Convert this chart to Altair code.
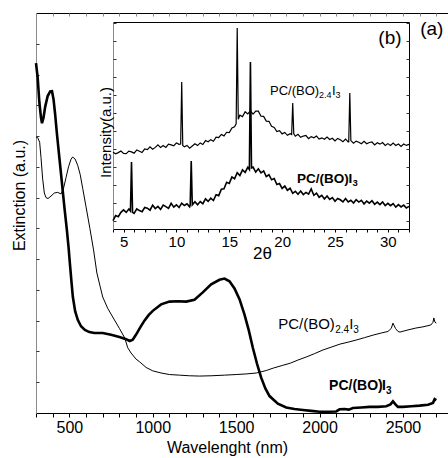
import altair as alt
import pandas as pd

# ---------------- main panel (a): extinction spectra ----------------
nm_thick = [300, 310, 320, 330, 336, 345, 355, 370, 385, 396, 405, 415, 425, 440, 455, 470, 485, 495,
            503, 512, 521, 535, 551, 570, 593, 620, 650, 700, 750, 800, 840, 862, 880, 900, 925, 950,
            975, 1000, 1050, 1100, 1150, 1200, 1250, 1300, 1350, 1400, 1430, 1460, 1490, 1520, 1550,
            1575, 1600, 1625, 1650, 1675, 1700, 1750, 1800, 1850, 1900, 1950, 2000, 2050, 2100, 2120,
            2150, 2175, 2200, 2250, 2300, 2350, 2400, 2425, 2440, 2455, 2470, 2500, 2550, 2600, 2650,
            2680, 2690, 2700]
ext_thick = [11.37, 10.9, 10.1, 9.6, 9.42, 9.6, 9.95, 10.3, 10.45, 10.46, 10.2, 9.7, 9.1, 8.3, 7.5, 6.7,
             5.95, 5.4, 4.87, 4.3, 3.77, 3.3, 3.02, 2.82, 2.70, 2.63, 2.60, 2.60, 2.54, 2.47, 2.40, 2.34,
             2.38, 2.55, 2.78, 3.0, 3.18, 3.32, 3.53, 3.62, 3.63, 3.62, 3.68, 3.92, 4.18, 4.33, 4.37,
             4.28, 4.05, 3.7, 3.2, 2.7, 2.12, 1.6, 1.15, 0.8, 0.55, 0.3, 0.18, 0.13, 0.1, 0.07, 0.04,
             0.04, 0.05, 0.12, 0.13, 0.11, 0.16, 0.18, 0.2, 0.2, 0.22, 0.28, 0.38, 0.28, 0.2, 0.2, 0.22,
             0.24, 0.27, 0.33, 0.45, 0.42]

nm_thin = [300, 310, 322, 330, 340, 350, 360, 372, 390, 410, 430, 450, 465, 480, 495, 510, 520, 535, 550,
           565, 580, 600, 623, 645, 665, 685, 700, 730, 760, 800, 832, 850, 870, 900, 922, 960, 1000,
           1050, 1100, 1160, 1220, 1280, 1350, 1430, 1500, 1560, 1621, 1680, 1723, 1780, 1825, 1870,
           1920, 1970, 2021, 2070, 2123, 2170, 2219, 2270, 2320, 2370, 2410, 2430, 2440, 2455, 2470,
           2482, 2530, 2577, 2620, 2667, 2680, 2685, 2692, 2700]
ext_thin = [8.97, 8.95, 8.8, 8.3, 7.6, 7.15, 7.0, 6.97, 7.05, 7.15, 7.17, 7.12, 7.3, 7.65, 8.0, 8.25,
            8.32, 8.25, 8.05, 7.75, 7.3, 6.7, 6.0, 5.3, 4.55, 4.1, 3.77, 3.4, 3.12, 2.75, 2.44, 2.12,
            1.95, 1.75, 1.66, 1.48, 1.37, 1.3, 1.25, 1.23, 1.21, 1.2, 1.21, 1.23, 1.25, 1.27, 1.3,
            1.38, 1.46, 1.55, 1.62, 1.72, 1.82, 1.93, 2.05, 2.14, 2.24, 2.3, 2.37, 2.45, 2.53, 2.6,
            2.65, 2.75, 2.92, 2.75, 2.65, 2.63, 2.7, 2.76, 2.8, 2.86, 2.95, 3.09, 2.95, 2.92]

# ---------------- inset (b): XRD patterns ----------------
tt_grid = [4 + 0.25 * i for i in range(113)]
xrd_top = [3.82, 3.73, 3.80, 3.89, 3.76, 3.74, 3.88, 3.84, 3.77, 3.95, 3.88, 3.81, 4.00, 3.97, 4.12,
           3.99, 4.09, 4.23, 4.08, 4.19, 4.09, 4.27, 4.23, 4.18, 4.34, 4.26, 7.72, 4.12, 4.20, 4.05,
           4.17, 4.29, 4.19, 4.34, 4.25, 4.47, 4.40, 4.52, 4.43, 4.66, 4.64, 4.81, 4.73, 4.93, 4.91,
           5.17, 5.23, 10.72, 5.88, 5.80, 6.07, 5.95, 6.12, 5.94, 6.10, 6.10, 5.82, 5.81, 5.55, 5.54,
           5.26, 5.20, 4.97, 5.02, 4.84, 4.92, 4.76, 4.85, 6.56, 4.71, 4.82, 4.65, 4.72, 4.75, 4.58,
           4.69, 4.62, 4.72, 4.55, 4.62, 4.54, 4.66, 4.53, 4.60, 4.45, 4.59, 4.51, 4.41, 4.55, 4.40,
           4.47, 4.32, 4.44, 4.38, 4.29, 4.43, 4.29, 4.36, 4.39, 4.23, 4.35, 4.27, 4.36, 4.20, 4.30,
           4.20, 4.33, 4.20, 4.28, 4.14, 4.28, 4.20, 4.26]
top_extra_tt = [10.4, 10.6, 15.65, 15.85, 20.9, 21.1, 26.3, 26.4]
top_extra_v = [4.28, 4.20, 5.40, 5.65, 4.80, 4.85, 4.40, 7.11]

xrd_bot = [0.02, 0.30, 0.24, 0.48, 0.62, 0.48, 0.67, 3.28, 0.42, 0.67, 0.58, 0.52, 0.75, 0.71, 0.60,
           0.88, 0.69, 0.81, 0.64, 0.88, 0.80, 0.70, 0.98, 0.77, 0.90, 0.75, 0.99, 0.86, 0.96, 0.79,
           0.90, 1.07, 0.90, 1.08, 0.96, 1.23, 1.09, 1.27, 1.14, 1.46, 1.41, 1.77, 1.79, 2.15, 2.09,
           2.45, 2.35, 2.68, 2.52, 2.84, 2.70, 2.98, 8.83, 3.00, 2.72, 2.90, 2.67, 2.78, 2.47, 2.57,
           2.29, 2.36, 2.03, 2.08, 1.81, 1.94, 1.71, 1.82, 1.54, 1.65, 1.49, 1.67, 1.47, 1.59, 1.49,
           1.78, 1.43, 1.55, 1.32, 1.43, 1.22, 1.39, 1.20, 1.30, 1.10, 1.25, 1.18, 1.06, 1.25, 1.06,
           1.15, 1.00, 1.18, 1.05, 1.15, 0.95, 1.11, 0.99, 1.13, 0.93, 1.05, 0.91, 1.06, 0.86, 0.98,
           0.85, 0.97, 0.77, 0.91, 0.78, 0.88, 0.72, 0.81]
bot_extra_tt = [5.65, 5.85, 11.3, 11.4, 16.9, 17.1]
bot_extra_v = [0.56, 0.48, 0.88, 3.33, 2.86, 2.95]

# tick values
main_ticks_x = list(range(300, 2800, 100))
main_ticks_y = list(range(1, 13))
inset_ticks_x = list(range(4, 33))
inset_ticks_y = list(range(0, 12))

FONT = "Liberation Sans"
GRAY = "#8a8a8a"

MX = alt.Scale(domain=[300, 2770], range=[0, 412], nice=False, zero=False)
MY = alt.Scale(domain=[0, 13], range=[400, 0], nice=False, zero=False)
IX = alt.Scale(domain=[4, 32], range=[77, 373], nice=False, zero=False)
IY = alt.Scale(domain=[-0.444, 11.056], range=[216, 9], nice=False, zero=False)

df_thick = pd.DataFrame({"x": nm_thick, "y": ext_thick})
df_thin = pd.DataFrame({"x": nm_thin, "y": ext_thin})
df_top = pd.DataFrame({"x": tt_grid + top_extra_tt, "y": xrd_top + top_extra_v}).sort_values("x")
df_bot = pd.DataFrame({"x": tt_grid + bot_extra_tt, "y": xrd_bot + bot_extra_v}).sort_values("x")

thick = alt.Chart(df_thick).mark_line(color="black", strokeWidth=2.6).encode(
    x=alt.X("x:Q", scale=MX, axis=alt.Axis(
        orient="bottom", values=main_ticks_x, format="d",
        labelExpr="datum.value % 500 == 0 ? datum.label : ''",
        tickSize=4, tickColor="black", domainColor="black", labelFontSize=16, labelPadding=2,
        title="Wavelenght (nm)", titleFontSize=16, titleX=191, titleY=34, titleBaseline="middle")),
    y=alt.Y("y:Q", scale=MY, axis=alt.Axis(
        orient="left", ticks=False, labels=False, domainColor=GRAY,
        title="Extinction (a.u.)", titleFontSize=16, titleX=-17, titleY=182, titleBaseline="middle")),
)

thin = alt.Chart(df_thin).mark_line(color="black", strokeWidth=1).encode(
    x=alt.X("x:Q", scale=MX, axis=None),
    y=alt.Y("y:Q", scale=MY, axis=None),
)

main_frame = alt.Chart(df_thick).mark_point(opacity=0).encode(
    x=alt.X("x:Q", scale=MX, axis=alt.Axis(orient="top", ticks=False, labels=False,
                                           domainColor="black", title=None)),
    y=alt.Y("y:Q", scale=MY, axis=alt.Axis(orient="left", offset=-3, values=main_ticks_y,
                                           tickSize=3, tickColor="#333333", domain=False,
                                           labels=False, title=None)),
)

main_top_ticks = alt.Chart(df_thick).mark_point(opacity=0).encode(
    x=alt.X("x:Q", scale=MX, axis=alt.Axis(orient="top", offset=-3, values=main_ticks_x,
                                           tickSize=3, tickColor=GRAY, domain=False,
                                           labels=False, title=None)),
    y=alt.Y("y:Q", scale=MY, axis=None),
)

inset_top = alt.Chart(df_top).mark_line(color="black", strokeWidth=1.2).encode(
    x=alt.X("x:Q", scale=IX, axis=alt.Axis(
        orient="bottom", offset=-184, values=inset_ticks_x,
        labelExpr="datum.value % 5 == 0 ? datum.label : ''",
        tickSize=3, tickColor="black", domainColor="black", labelFontSize=15, labelPadding=2,
        title="2θ", titleFontSize=17, titleX=226, titleY=24, titleBaseline="middle")),
    y=alt.Y("y:Q", scale=IY, axis=alt.Axis(
        orient="left", offset=-77, ticks=False, labels=False, domainColor=GRAY,
        title="Intensity(a.u.)", titleFontSize=15, titleX=-8, titleY=119, titleBaseline="middle")),
)

inset_bot = alt.Chart(df_bot).mark_line(color="black", strokeWidth=1.6).encode(
    x=alt.X("x:Q", scale=IX, axis=alt.Axis(orient="top", offset=-9, ticks=False, labels=False,
                                           domainColor="black", title=None)),
    y=alt.Y("y:Q", scale=IY, axis=alt.Axis(orient="left", offset=-80, values=inset_ticks_y,
                                           tickSize=3, tickColor="#333333", domain=False,
                                           labels=False, title=None)),
)

inset_right = alt.Chart(df_top).mark_point(opacity=0).encode(
    x=alt.X("x:Q", scale=IX, axis=None),
    y=alt.Y("y:Q", scale=IY, axis=alt.Axis(orient="right", offset=-39, ticks=False, labels=False,
                                           domainColor="black", title=None)),
)

inset_right_ticks = alt.Chart(df_top).mark_point(opacity=0).encode(
    x=alt.X("x:Q", scale=IX, axis=None),
    y=alt.Y("y:Q", scale=IY, axis=alt.Axis(orient="right", offset=-42, values=inset_ticks_y,
                                           tickSize=3, tickColor="#333333", domain=False,
                                           labels=False, title=None)),
)


def label(x, y, text, sx, sy, size, dx=0, dy=0, weight="normal", align="left", baseline="alphabetic"):
    df = pd.DataFrame({"x": [x], "y": [y], "t": [text]})
    return alt.Chart(df).mark_text(
        align=align, baseline=baseline, fontSize=size, font=FONT, fontWeight=weight,
        dx=dx, dy=dy, color="black").encode(
        x=alt.X("x:Q", scale=sx, axis=None),
        y=alt.Y("y:Q", scale=sy, axis=None),
        text="t:N",
    )


# annotation anchors (data coordinates)
main_thin_lab = (1752, 2.74)
main_bold_lab = (2057, 0.75)
inset_thin_lab = (18.85, 7.0)
inset_bold_lab = (21.4, 2.1)
panel_a = (2673, 12.48)
panel_b = (30.2, 10.17)

texts = [
    label(*main_thin_lab, "PC/(BO)", MX, MY, 15),
    label(*main_thin_lab, "2.4", MX, MY, 10, dx=57, dy=4),
    label(*main_thin_lab, "I", MX, MY, 15, dx=71),
    label(*main_thin_lab, "3", MX, MY, 10, dx=75, dy=4),
    label(*main_bold_lab, "PC/(BO)", MX, MY, 14, weight="bold"),
    label(*main_bold_lab, "I", MX, MY, 14, dx=53, weight="bold"),
    label(*main_bold_lab, "3", MX, MY, 10, dx=57, dy=4, weight="bold"),
    label(*inset_thin_lab, "PC/(BO)", IX, IY, 13),
    label(*inset_thin_lab, "2.4", IX, IY, 9, dx=49, dy=3),
    label(*inset_thin_lab, "I", IX, IY, 13, dx=62),
    label(*inset_thin_lab, "3", IX, IY, 9, dx=65.5, dy=3),
    label(*inset_bold_lab, "PC/(BO)", IX, IY, 13.5, weight="bold"),
    label(*inset_bold_lab, "I", IX, IY, 13.5, dx=51.5, weight="bold"),
    label(*inset_bold_lab, "3", IX, IY, 9.5, dx=55.5, dy=3, weight="bold"),
    label(*panel_a, "(a)", MX, MY, 19, align="center", baseline="middle"),
    label(*panel_b, "(b)", IX, IY, 19, align="center", baseline="middle"),
]

chart = alt.layer(
    thick, thin, main_frame, main_top_ticks,
    inset_top, inset_bot, inset_right, inset_right_ticks,
    *texts,
).resolve_scale(x="independent", y="independent").properties(
    width=412, height=400,
    autosize=alt.AutoSizeParams(type="none"),
    padding={"left": 36, "top": 13, "right": 0, "bottom": 45},
    background="white",
).configure_view(stroke=None).configure_axis(
    grid=False, labelFont=FONT, titleFont=FONT, labelColor="black", titleColor="black",
    titleFontWeight="normal",
)

chart.save("out.html", embed_options={"renderer": "svg", "actions": False})
